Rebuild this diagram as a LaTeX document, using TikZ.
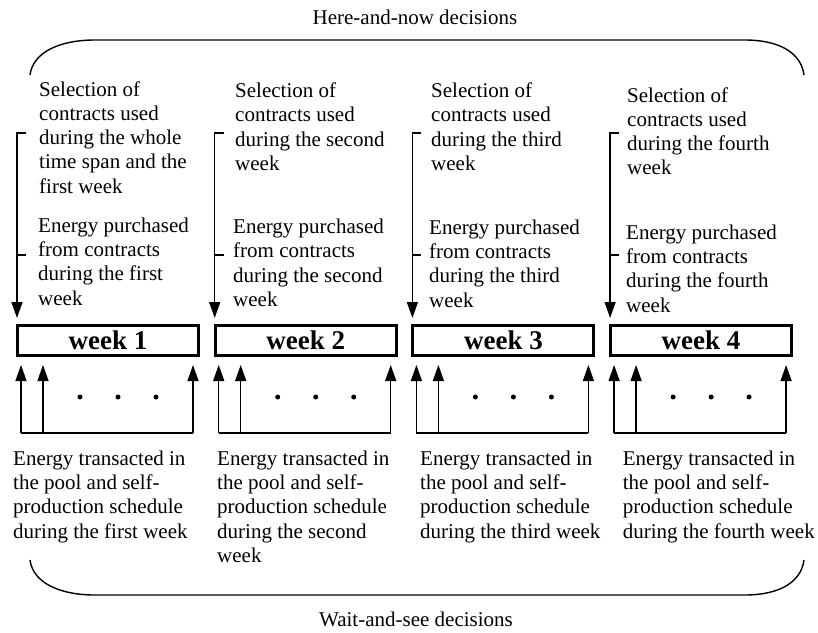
\documentclass[tikz,border=0pt]{standalone}
\usepackage{fontspec}
\setmainfont{Liberation Serif}
\usetikzlibrary{arrows.meta}
\begin{document}
\begin{tikzpicture}[x=1pt,y=-1pt,
  txt/.style={font=\fontsize{21}{24.2}\selectfont, align=left, anchor=north west, inner sep=0pt},
  hdr/.style={font=\fontsize{21}{24.2}\selectfont, inner sep=0pt},
  wk/.style={draw, line width=3pt, minimum width=181pt, minimum height=30pt, inner sep=0pt, font=\fontsize{27}{30}\selectfont\bfseries},
  ln/.style={line width=1.4pt},
  arr/.style={line width=1.4pt, -{Triangle[length=16pt,width=11pt]}},
  dotmark/.style={circle, fill, inner sep=0pt, minimum size=5pt}
]
\useasboundingbox (0,0) rectangle (818,632);

% headers
\node[hdr] (hn) at (415,17) {Here-and-now decisions};
\node[hdr] (ws) at (416,619) {Wait-and-see decisions};

% braces
\coordinate (bt1) at (30,75);
\coordinate (bt2) at (804,75);
\coordinate (bb1) at (30,560);
\coordinate (bb2) at (804,560);
\draw[ln] (bt1) .. controls (33,52) and (60,40) .. (95,40) -- (745,40) .. controls (778,40) and (801,52) .. (bt2);
\draw[ln] (bb1) .. controls (33,583) and (60,595) .. (95,595) -- (745,595) .. controls (778,595) and (801,583) .. (bb2);

% week boxes
\foreach \i/\L in {1/16, 2/213.7, 3/411.4, 4/609.1} {
  \node[wk] (w\i) at (\L+92,340.5) {week \i};
  % down bracket arrow
  \coordinate (t\i) at (\L+10,133);
  \coordinate (ma\i) at (\L+1,255);
  \coordinate (mb\i) at (\L+10,255);
  \draw[arr, shorten >=6pt] (t\i) -| ([xshift=1pt]w\i.north west);
  \draw[ln] (ma\i) -- (mb\i);
  % up arrows
  \coordinate (u\i a) at (\L+5,433);
  \coordinate (u\i b) at (\L+27,433);
  \coordinate (u\i c) at (\L+177,433);
  \draw[ln] (u\i a) -- (u\i c);
  \draw[arr, shorten >=8pt] (u\i a) -- (u\i a |- w\i.south);
  \draw[arr, shorten >=8pt] (u\i b) -- (u\i b |- w\i.south);
  \draw[arr, shorten >=8pt] (u\i c) -- (u\i c |- w\i.south);
  \node[dotmark] (d\i a) at (\L+64,397) {};
  \node[dotmark] (d\i b) at (\L+102,397) {};
  \node[dotmark] (d\i c) at (\L+140,397) {};
}

% top labels (y = baseline - 14.3)
\node[txt] (s1) at (39,81.4) {Selection of\\contracts used\\during the whole\\time span and the\\first week};
\node[txt] (e1) at (38,217.7) {Energy purchased\\from contracts\\during the first\\week};
\node[txt] (s2) at (235,82.7) {Selection of\\contracts used\\during the second\\week};
\node[txt] (e2) at (233,219) {Energy purchased\\from contracts\\during the second\\week};
\node[txt] (s3) at (431,82.7) {Selection of\\contracts used\\during the third\\week};
\node[txt] (e3) at (429,219.7) {Energy purchased\\from contracts\\during the third\\week};
\node[txt] (s4) at (627,87.4) {Selection of\\contracts used\\during the fourth\\week};
\node[txt] (e4) at (626,224.7) {Energy purchased\\from contracts\\during the fourth\\week};

% bottom labels
\node[txt] (b1) at (13,450.7) {Energy transacted in\\the pool and self-\\production schedule\\during the first week};
\node[txt] (b2) at (217,450.7) {Energy transacted in\\the pool and self-\\production schedule\\during the second\\week};
\node[txt] (b3) at (420,450.7) {Energy transacted in\\the pool and self-\\production schedule\\during the third week};
\node[txt] (b4) at (622.7,450.7) {Energy transacted in\\the pool and self-\\production schedule\\during the fourth week};
\end{tikzpicture}
\end{document}
